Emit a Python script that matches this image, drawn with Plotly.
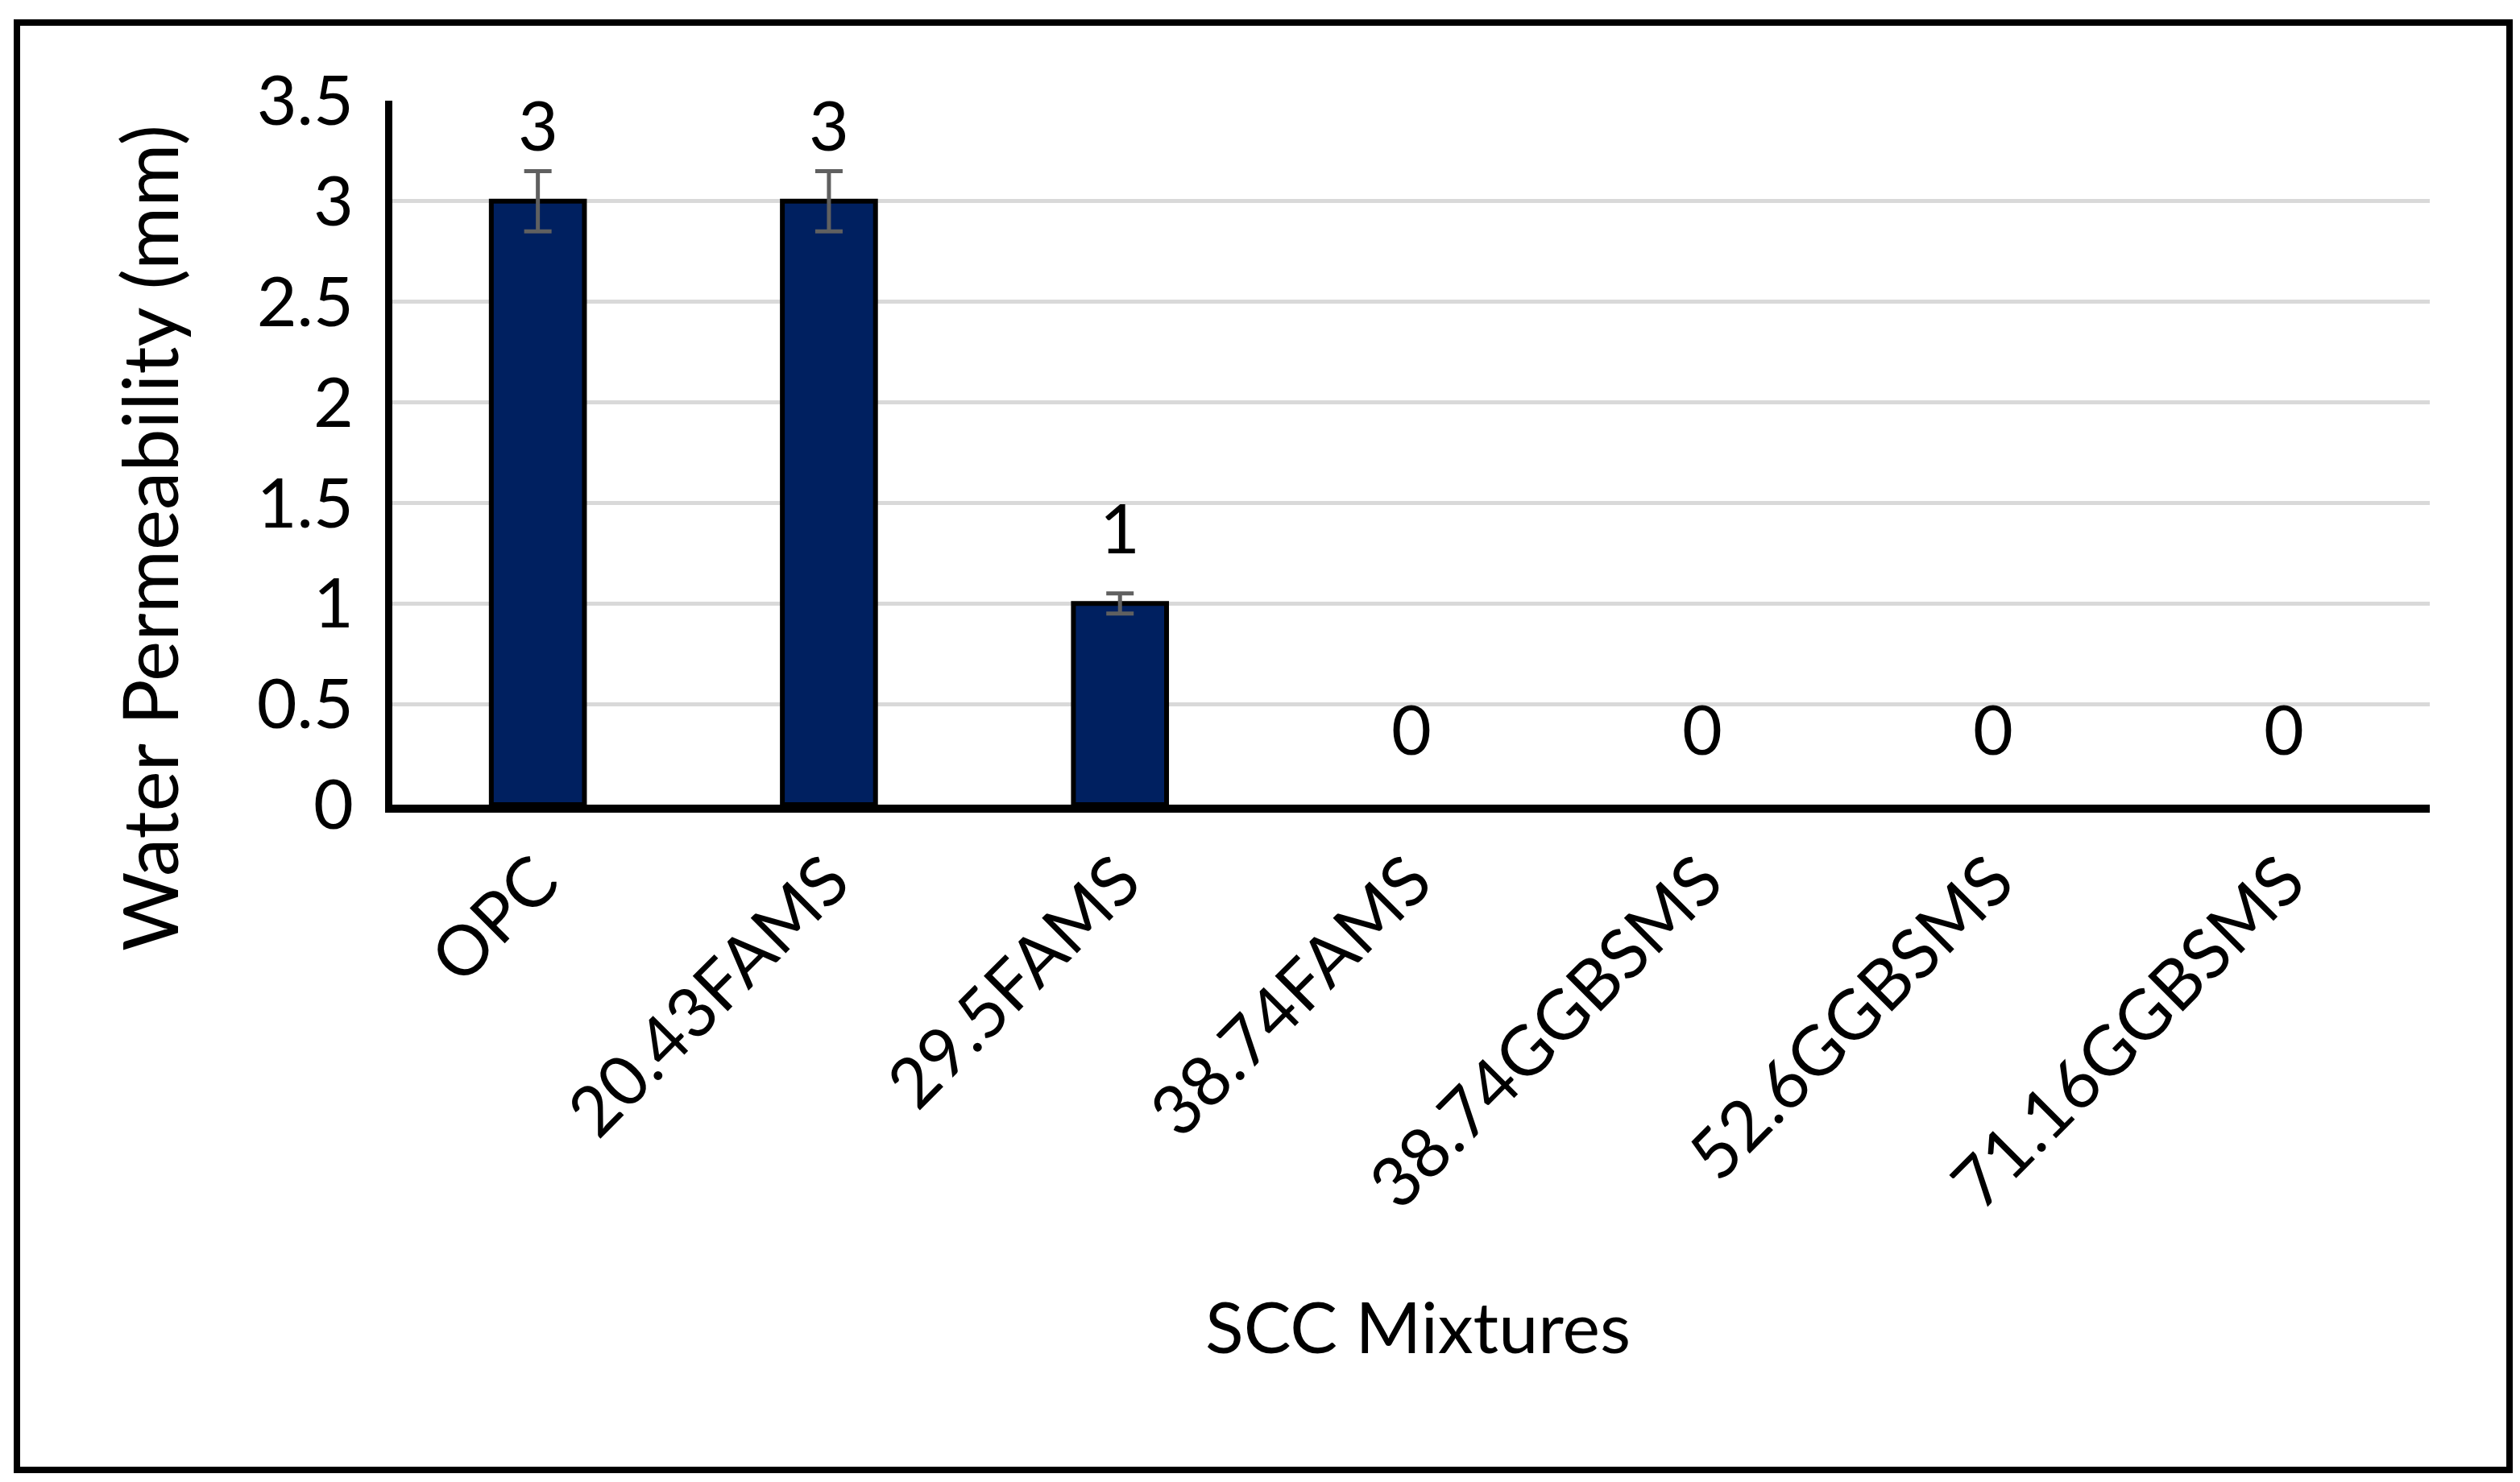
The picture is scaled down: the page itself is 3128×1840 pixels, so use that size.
import plotly.graph_objects as go

categories = ["OPC", "20.43FAMS", "29.5FAMS", "38.74FAMS", "38.74GGBSMS", "52.6GGBSMS", "71.16GGBSMS"]
permeability = [3, 3, 1, 0, 0, 0, 0]
errors = [0.15, 0.15, 0.05, None, None, None, None]
y_ticks = [0, 0.5, 1, 1.5, 2, 2.5, 3, 3.5]
y_tick_labels = ["0", "0.5", "1", "1.5", "2", "2.5", "3", "3.5"]

W, H = 3128, 1840
L, R, T, B = 479, 3008, 117, 991
pw, ph = R - L, B - T

def px_x(p):
    return (p - L) / pw

def px_y(p):
    return (B - p) / ph

FONT = "Lato"
FS = 86

fig = go.Figure()
fig.add_trace(go.Bar(
    x=categories,
    y=permeability,
    marker=dict(color="#002060",
                line=dict(color="black", width=[6 if v > 0 else 0 for v in permeability])),
    showlegend=False,
))

# error bars only where an error value exists
err_idx = [i for i, e in enumerate(errors) if e is not None]
fig.add_trace(go.Scatter(
    x=[categories[i] for i in err_idx],
    y=[permeability[i] for i in err_idx],
    mode="markers",
    marker=dict(size=1, opacity=0),
    error_y=dict(type="data", array=[errors[i] for i in err_idx], visible=True,
                 color="#606060", thickness=5, width=17),
    showlegend=False, hoverinfo="skip",
))

for c, v in zip(categories, permeability):
    fig.add_annotation(x=c, y=v, xref="x", yref="y", text=str(v), showarrow=False,
                       yanchor="middle", yshift=96, font=dict(family=FONT, size=FS, color="black"))

fig.add_annotation(x=px_x(176), y=px_y(660), xref="paper", yref="paper", text="Water Permeability (mm)",
                   textangle=-90, showarrow=False, xanchor="center", yanchor="middle",
                   font=dict(family=FONT, size=95, color="black"))
fig.add_annotation(x=px_x(1752), y=px_y(1638), xref="paper", yref="paper", text="SCC Mixtures",
                   showarrow=False, xanchor="center", yanchor="middle",
                   font=dict(family=FONT, size=88, color="black"))

fig.add_shape(type="rect", xref="paper", yref="paper",
              x0=px_x(13), x1=px_x(3107), y0=px_y(1817), y1=px_y(20),
              line=dict(color="black", width=8), fillcolor="rgba(0,0,0,0)", layer="above")

fig.update_layout(
    width=W, height=H,
    margin=dict(l=L, r=W - R, t=T, b=H - B),
    paper_bgcolor="white", plot_bgcolor="white",
    bargap=0.68,
    font=dict(family=FONT, size=FS, color="black"),
    xaxis=dict(
        showline=True, linecolor="black", linewidth=10,
        tickangle=-45, ticks="", showgrid=False,
        tickfont=dict(family=FONT, size=FS, color="black"),
        automargin=False,
    ),
    yaxis=dict(
        range=[0, 3.5], tickvals=y_ticks, ticktext=y_tick_labels,
        showline=True, linecolor="black", linewidth=9,
        showgrid=True, gridcolor="#d9d9d9", gridwidth=5,
        zeroline=False, ticks="", ticklabelstandoff=22,
        tickfont=dict(family=FONT, size=FS, color="black"),
        automargin=False,
    ),
)

fig.write_html("out.html")
